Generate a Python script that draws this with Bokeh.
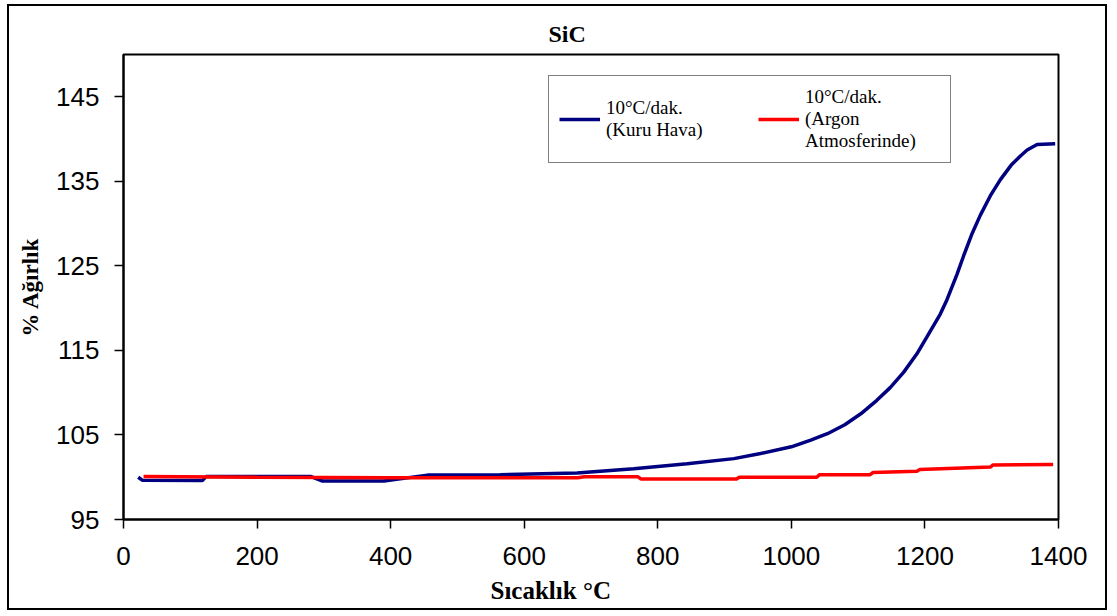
from bokeh.plotting import figure
from bokeh.models import Range1d, FixedTicker, Legend, LegendItem, Title
from bokeh.embed import file_html
from bokeh.resources import INLINE

# ---- data ----
air_temp = [22, 28, 118, 124, 280, 298, 390, 455, 564, 679, 764, 844, 914, 954, 1000,
            1029, 1054, 1080, 1104, 1128, 1148, 1168, 1188, 1203, 1223, 1233, 1248, 1258,
            1270, 1283, 1298, 1313, 1330, 1343, 1353, 1368, 1395]
air_weight = [100.0, 99.65, 99.6, 100.1, 100.1, 99.55, 99.55, 100.25, 100.3, 100.5, 101.0,
              101.6, 102.2, 102.8, 103.6, 104.4, 105.15, 106.2, 107.5, 109.1, 110.6, 112.4,
              114.6, 116.6, 119.3, 121.0, 124.0, 126.2, 128.7, 131.0, 133.3, 135.2, 137.0,
              138.0, 138.7, 139.35, 139.45]

argon_temp = [30, 200, 400, 600, 680, 690, 770, 775, 918, 922, 1038, 1042, 1118, 1122,
              1188, 1192, 1298, 1302, 1392]
argon_weight = [100.1, 100.0, 99.95, 99.95, 99.95, 100.05, 100.05, 99.8, 99.8, 100.0, 100.0,
                100.3, 100.3, 100.55, 100.7, 100.9, 101.2, 101.45, 101.5]

x_ticks = [0, 200, 400, 600, 800, 1000, 1200, 1400]
y_ticks = [95, 105, 115, 125, 135, 145]

title_text = "SiC"
x_label = "Sıcaklık °C"
y_label = "% Ağırlık"
air_label = "10°C/dak.\n(Kuru Hava)"
argon_label = "10°C/dak.\n(Argon\nAtmosferinde)"

SERIF = "Liberation Serif"
SANS = "Liberation Sans"

p = figure(width=1100, height=606, output_backend="svg", toolbar_location=None,
           x_range=Range1d(0, 1400), y_range=Range1d(95, 150),
           min_border_left=114, min_border_right=51, min_border_top=48, min_border_bottom=93,
           title=None)
p.styles = {"margin-left": "7px", "margin-top": "4px", "border": "2px solid black"}
p.background_fill_color = "white"
p.border_fill_color = "white"
p.outline_line_color = "black"
p.outline_line_width = 2
p.xgrid.visible = False
p.ygrid.visible = False

for ax in (p.xaxis[0], p.yaxis[0]):
    ax.axis_line_color = "black"
    ax.axis_line_width = 2
    ax.major_tick_line_color = "black"
    ax.major_tick_line_width = 1.5
    ax.major_tick_out = 9
    ax.major_tick_in = 0
    ax.minor_tick_line_color = None
    ax.major_label_text_font = SANS
    ax.major_label_text_font_size = "26px"
    ax.major_label_text_color = "black"
p.xaxis.major_label_standoff = 18
p.yaxis.major_label_standoff = 15
p.xaxis.ticker = FixedTicker(ticks=x_ticks)
p.yaxis.ticker = FixedTicker(ticks=y_ticks)

p.yaxis.axis_label = y_label
p.yaxis.axis_label_text_font = SERIF
p.yaxis.axis_label_text_font_style = "bold"
p.yaxis.axis_label_text_font_size = "23px"
p.yaxis.axis_label_text_color = "black"
p.yaxis.axis_label_standoff = 10

r_air = p.line(air_temp, air_weight, line_color="#000080", line_width=3.5)
r_arg = p.line(argon_temp, argon_weight, line_color="#ff0000", line_width=3.5)

legend = Legend(items=[LegendItem(label=air_label, renderers=[r_air]),
                       LegendItem(label=argon_label, renderers=[r_arg])],
                orientation="horizontal", location=(425, 356),
                label_text_font=SERIF, label_text_font_size="19px",
                label_text_color="black", label_text_line_height=1.35,
                glyph_width=41, label_standoff=6, label_width=135, spacing=17,
                padding=10, margin=0,
                border_line_color="black", border_line_width=1.5,
                background_fill_color="white", background_fill_alpha=1)
p.add_layout(legend)

p.add_layout(Title(text=title_text, align="left", offset=425, text_font=SERIF,
                   text_font_style="bold", text_font_size="24px", text_color="black",
                   standoff=15), "above")
p.add_layout(Title(text=x_label, align="left", offset=367, text_font=SERIF,
                   text_font_style="bold", text_font_size="25px", text_color="black",
                   standoff=14), "below")

open("out.html", "w").write(file_html(p, INLINE))
